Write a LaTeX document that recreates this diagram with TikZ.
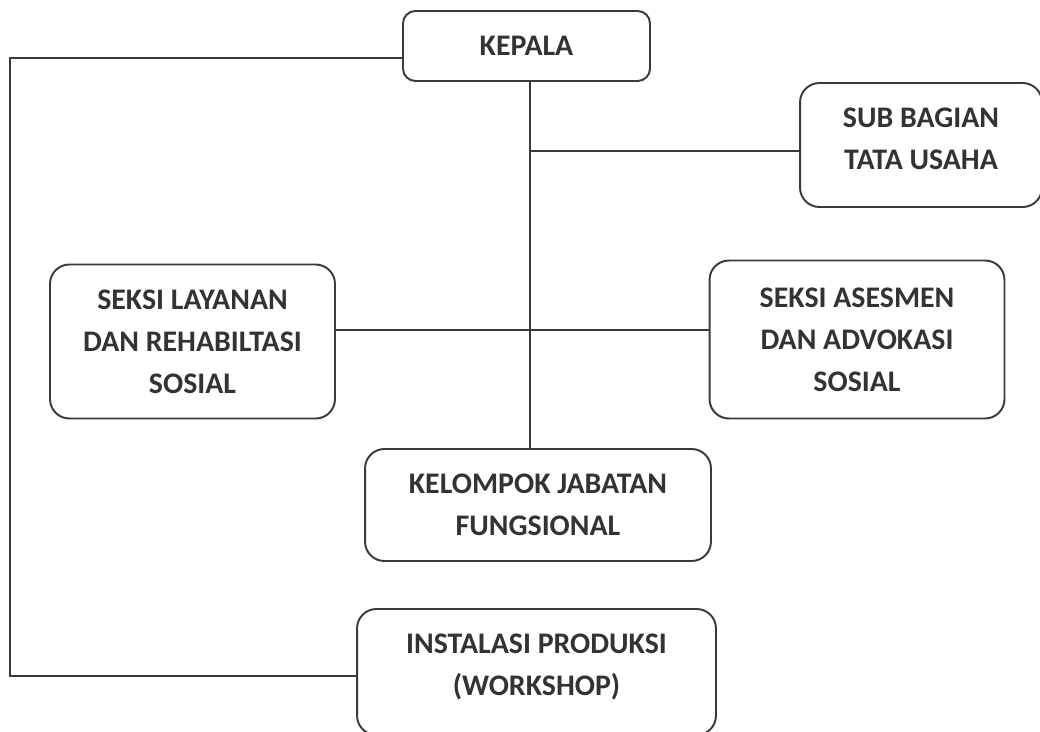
\documentclass[tikz,border=0pt]{standalone}
\usepackage{fontspec}
\setmainfont{Carlito}
\usetikzlibrary{calc}
\definecolor{boxline}{HTML}{3A3A3A}
\definecolor{boxtext}{HTML}{333333}

\begin{document}
\begin{tikzpicture}[x=0.02cm,y=-0.02cm,
  unit/.style={draw=boxline,line width=1.1pt,rounded corners=11pt,align=center,
    font=\fontsize{17}{24}\selectfont\bfseries,text=boxtext,inner sep=0pt},
  link/.style={draw=boxline,line width=1.1pt}]

  \useasboundingbox (0,0) rectangle (1040,731);

  \node[unit,rounded corners=7pt,minimum width=4.94cm,minimum height=1.4cm] (kepala) at (526.5,46) {KEPALA};
  \node[unit,minimum width=4.84cm,minimum height=2.48cm] (subbag) at (921,145) {SUB BAGIAN\\TATA USAHA\\[-17pt]};
  \node[unit,minimum width=5.7cm,minimum height=3.08cm] (layanan) at (192.5,341.5) {SEKSI LAYANAN\\DAN REHABILTASI\\SOSIAL};
  \node[unit,minimum width=5.9cm,minimum height=3.16cm] (asesmen) at (857,339.5) {SEKSI ASESMEN\\DAN ADVOKASI\\SOSIAL};
  \node[unit,minimum width=6.92cm,minimum height=2.24cm] (kelompok) at (538,505) {KELOMPOK JABATAN\\FUNGSIONAL};
  \node[unit,minimum width=7.18cm,minimum height=2.52cm] (instalasi) at (536.5,672) {INSTALASI PRODUKSI\\(WORKSHOP)\\[-16pt]};

  \coordinate (trunk) at (530,151);
  \coordinate (leftup) at (10,58);
  \coordinate (leftdown) at (10,676);
  \coordinate (seksi) at (530,330);

  \draw[link] (trunk |- kepala.south) -- (trunk |- kelompok.north);
  \draw[link] (trunk) -- (trunk -| subbag.west);
  \draw[link] (seksi -| layanan.east) -- (seksi -| asesmen.west);
  \draw[link] (kepala.west |- leftup) -- (leftup) -- (leftdown) -- (leftdown -| instalasi.west);
\end{tikzpicture}
\end{document}
